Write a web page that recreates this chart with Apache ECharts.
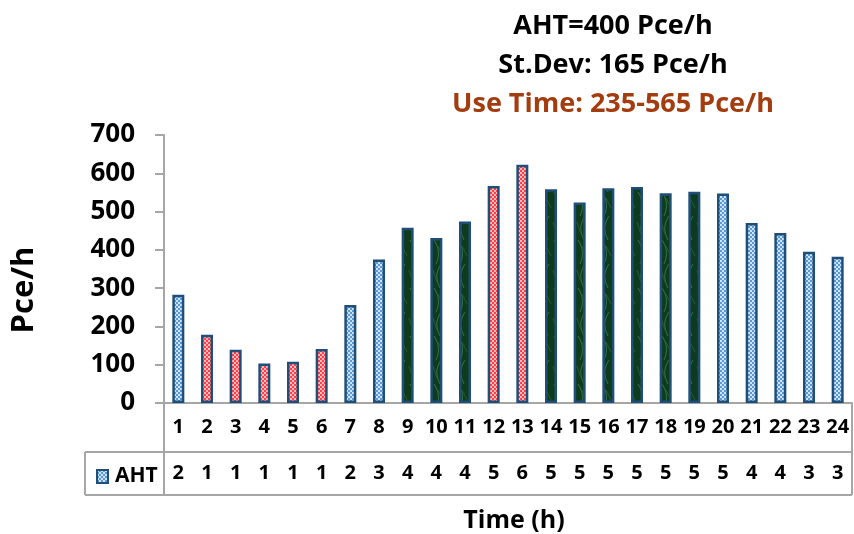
<!DOCTYPE html>
<html>
<head>
<meta charset="utf-8">
<script src="https://cdn.jsdelivr.net/npm/echarts@6/dist/echarts.min.js"></script>
<style>
  html, body { margin: 0; padding: 0; background: #fff; }
  #chart { width: 854px; height: 534px; }
</style>
</head>
<body>
<div id="chart"></div>
<script>
const hours = ["1","2","3","4","5","6","7","8","9","10","11","12","13","14","15","16","17","18","19","20","21","22","23","24"];
const volumes = [283, 178, 139, 103, 108, 141, 256, 375, 458, 431, 474, 567, 622, 558, 524, 561, 564, 548, 552, 547, 470, 444, 395, 382];
const ahtClass = ["2","1","1","1","1","1","2","3","4","4","4","5","6","5","5","5","5","5","5","5","4","4","3","3"];
// fill used for each hour: base, outside use-time range, inside range
const fillType = ["blue","red","red","red","red","red","blue","blue","green","green","green","red","red",
  "green","green","green","green","green","green","blue","blue","blue","blue","blue"];
const yTicks = [0, 100, 200, 300, 400, 500, 600, 700];
const titleLines = ["AHT=400 Pce/h", "St.Dev: 165 Pce/h", "Use Time: 235-565 Pce/h"];

const FONT = "Open Sans";

function checker(a, b, size) {
  const c = document.createElement("canvas");
  c.width = size * 2;
  c.height = size * 2;
  const ctx = c.getContext("2d");
  ctx.fillStyle = a;
  ctx.fillRect(0, 0, size * 2, size * 2);
  ctx.fillStyle = b;
  ctx.fillRect(0, 0, size, size);
  ctx.fillRect(size, size, size, size);
  return c;
}

function greenTexture() {
  const c = document.createElement("canvas");
  c.width = 12;
  c.height = 48;
  const ctx = c.getContext("2d");
  ctx.fillStyle = "#0f3b1d";
  ctx.fillRect(0, 0, 12, 48);
  ctx.strokeStyle = "rgba(80,150,95,0.5)";
  ctx.lineWidth = 1.2;
  ctx.beginPath();
  ctx.moveTo(2, 0); ctx.quadraticCurveTo(10, 12, 4, 24);
  ctx.moveTo(9, 24); ctx.quadraticCurveTo(1, 36, 8, 48);
  ctx.stroke();
  ctx.strokeStyle = "rgba(40,100,55,0.7)";
  ctx.beginPath();
  ctx.moveTo(6, 6); ctx.lineTo(11, 16);
  ctx.moveTo(1, 30); ctx.lineTo(5, 42);
  ctx.stroke();
  return c;
}

const fills = {
  blue: { image: checker("#5b98d6", "#cfe3f6", 2), repeat: "repeat" },
  red: { image: checker("#ff3e45", "#ffb9bb", 2), repeat: "repeat" },
  green: { image: greenTexture(), repeat: "repeat" }
};

const chart = echarts.init(document.getElementById("chart"), null, { renderer: "canvas" });

const gridLeft = 164, gridRight = 852, axisY = 403;
const lineStyle = { stroke: "#a6a6a6", lineWidth: 2 };
const boldText = (size) => ({ fontFamily: FONT, fontSize: size, fontWeight: "bold", color: "#000" });

chart.setOption({
  animation: false,
  textStyle: { fontFamily: FONT },
  title: [
    ...titleLines.map((t, i) => ({
      text: t,
      left: 608,
      top: 8 + i * 39,
      textAlign: "center",
      textStyle: { ...boldText(27), color: i === 2 ? "#a33c0f" : "#000" }
    })),
    {
      text: "Time (h)",
      left: 509,
      top: 503,
      textAlign: "center",
      textStyle: boldText(25)
    }
  ],
  legend: {
    data: ["AHT"],
    left: 91,
    top: 461,
    icon: "rect",
    itemWidth: 11,
    itemHeight: 13,
    textStyle: { ...boldText(21), padding: [0, 0, 0, 2] }
  },
  grid: { left: gridLeft, right: 854 - gridRight, top: 135, bottom: 534 - axisY },
  xAxis: [
    {
      type: "category",
      data: hours,
      axisLine: { lineStyle: { color: "#a6a6a6", width: 2 } },
      axisTick: { show: false },
      axisLabel: { ...boldText(20), margin: 14, interval: 0 }
    },
    {
      type: "category",
      position: "bottom",
      offset: 46,
      data: ahtClass,
      axisLine: { show: false },
      axisTick: { show: false },
      axisLabel: { ...boldText(20), margin: 14, interval: 0 }
    }
  ],
  yAxis: {
    type: "value",
    min: 0,
    max: 700,
    interval: 100,
    axisLine: { show: true, lineStyle: { color: "#a6a6a6", width: 2 } },
    axisTick: { show: true, length: 9, lineStyle: { color: "#a6a6a6", width: 2 } },
    splitLine: { show: false },
    axisLabel: {
      ...boldText(26),
      margin: 29,
      formatter: (v) => (yTicks.includes(v) ? String(v) : "")
    }
  },
  series: [
    {
      name: "AHT",
      type: "bar",
      barWidth: 12,
      itemStyle: { color: fills.blue, borderColor: "#1f4e79", borderWidth: 2.5 },
      data: volumes.map((v, i) => ({
        value: v,
        itemStyle: { color: fills[fillType[i]], borderColor: "#1f4e79", borderWidth: 2.5 }
      }))
    }
  ],
  graphic: [
    {
      type: "text",
      x: 24,
      y: 290,
      rotation: Math.PI / 2,
      style: { text: "Pce/h", font: "bold 31px 'Open Sans'", fill: "#000", align: "center", verticalAlign: "middle" }
    },
    { type: "line", shape: { x1: gridLeft, y1: axisY, x2: gridLeft, y2: 495 }, style: lineStyle },
    { type: "line", shape: { x1: gridRight, y1: axisY, x2: gridRight, y2: 495 }, style: lineStyle },
    { type: "line", shape: { x1: 85, y1: 452, x2: gridRight, y2: 452 }, style: lineStyle },
    { type: "line", shape: { x1: 85, y1: 495, x2: gridRight, y2: 495 }, style: lineStyle },
    { type: "line", shape: { x1: 85, y1: 452, x2: 85, y2: 495 }, style: lineStyle }
  ]
});
</script>
</body>
</html>
